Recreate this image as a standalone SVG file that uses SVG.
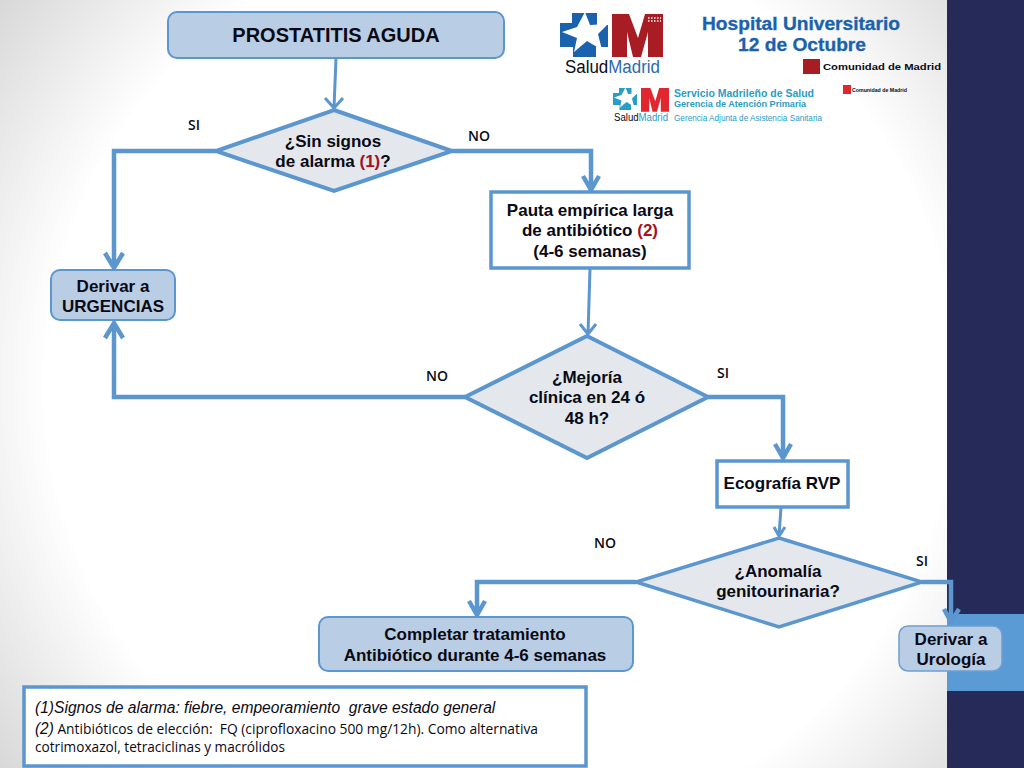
<svg xmlns="http://www.w3.org/2000/svg" width="1024" height="768" viewBox="0 0 1024 768">
<style>
text{font-family:"Liberation Sans",Arial,sans-serif;fill:#0a0a14}
.n{font-weight:bold;font-size:17px;text-anchor:middle}
.l{font-family:"Open Sans","Noto Sans",sans-serif;font-weight:600;font-size:14px}
.rb{fill:#b9cde5;stroke:#5b96cf;stroke-width:2}
.d{fill:#e4e7ec;stroke:#5b96cf;stroke-width:4;stroke-linejoin:miter}
.b{fill:#fff;stroke:#5b96cf;stroke-width:3.5}
.c{fill:none;stroke:#5b96cf;stroke-linejoin:miter}
.r{fill:#a50f1e}
.logo{fill:#1a62ad;font-weight:bold;stroke:#1a62ad;stroke-width:.3}
.cy{fill:#2a9dc4}
</style>
<defs>
<radialGradient id="bg" gradientUnits="userSpaceOnUse" cx="500" cy="384" r="630"><stop offset="0.72" stop-color="#fff"/><stop offset="1" stop-color="#d8d8d8"/></radialGradient>
<g id="cross">
<path d="M572 13H597V25H608V47H596V57H573V47H560V23H572Z"/>
<path d="M585 12 590 25 608 24 598 34 602 50 587 41 574 52 577 38 562 32 577 27Z" fill="#fff"/>
</g>
<path id="em" d="M612 14H629L638 38 645 14H663V57H648V32L641 57H633L627 32V57H612Z"/>
</defs>
<g id="background">
<rect width="948" height="768" fill="url(#bg)"/>
<rect x="947" width="77" height="768" fill="#262a58"/>
<rect x="947" y="614" width="77" height="77" fill="#5b9bd5"/>
</g>
<g id="logos">
<use href="#cross" fill="#1a62ad"/>
<use href="#em" fill="#a81c24"/>
<path d="M648 18H661M648 21H661" stroke="#fff" stroke-width="1.5" stroke-dasharray="1.5 1.5"/>
<text x="565" y="73" font-size="18" textLength="95" lengthAdjust="spacingAndGlyphs" fill="#9c2a33">Salud<tspan fill="#2c6ba8">Madrid</tspan></text>
<text x="702" y="30" font-size="18" class="logo" textLength="198" lengthAdjust="spacingAndGlyphs">Hospital Universitario</text>
<text x="738" y="50.5" font-size="18" class="logo" textLength="128" lengthAdjust="spacingAndGlyphs">12 de Octubre</text>
<rect x="803" y="59" width="17" height="15" fill="#a81c24"/>
<text x="823" y="70" font-size="9.5" font-weight="bold" font-family="DejaVu Sans" textLength="118" lengthAdjust="spacingAndGlyphs">Comunidad de Madrid</text>
<use href="#cross" transform="translate(613 88) scale(.5) translate(-560 -13)" fill="#2a9dc4"/>
<use href="#em" transform="translate(641 88) scale(.55) translate(-612 -14)" fill="#e0262e"/>
<text x="614" y="121" font-size="10" textLength="54" lengthAdjust="spacingAndGlyphs" fill="#c0303a">Salud<tspan fill="#2a9dc4">Madrid</tspan></text>
<text x="674" y="97" font-size="10" font-weight="bold" class="cy" textLength="140" lengthAdjust="spacingAndGlyphs">Servicio Madrileño de Salud</text>
<text x="674" y="107" font-size="9.5" font-weight="bold" class="cy" textLength="132" lengthAdjust="spacingAndGlyphs">Gerencia de Atención Primaria</text>
<text x="674" y="121" font-size="9" class="cy" textLength="148" lengthAdjust="spacingAndGlyphs">Gerencia Adjunta de Asistencia Sanitaria</text>
<rect x="843" y="85" width="8" height="9" fill="#e0262e"/>
<text x="852" y="92" font-size="5" font-weight="bold" textLength="55" lengthAdjust="spacingAndGlyphs">Comunidad de Madrid</text>
</g>
<g id="connectors">
<g class="c" stroke-width="3">
<path d="M336 58 334 108M325 98 334 108 343 98"/>
<path d="M590 269 588 334M580 324 588 334 596 324"/>
<path d="M781 507 779 536M774 527 779 536 785 527"/>
</g>
<g class="c" stroke-width="4.5">
<path d="M216 151H114V268M105 253 114 268 123 253"/>
<path d="M452 151H591V190M583 176 591 190 599 176"/>
<path d="M465 397H114V323M105 338 114 323 123 338"/>
<path d="M708 397H783V458M775 444 783 458 791 444"/>
<path d="M636 582H477V615M469 601 477 615 485 601"/>
<path d="M922 582H951V622M944 609 951 622 959 609"/>
</g>
</g>
<g id="n-prostatitis"><rect class="rb" x="168" y="12" width="336" height="46" rx="9"/><text class="n" x="336" y="42" style="font-size:20px">PROSTATITIS AGUDA</text></g>
<g id="n-alarma"><path class="d" d="M334 110 452 151 334 191 216 151Z"/><text class="n" x="333" y="147">¿Sin signos</text><text class="n" x="333" y="167">de alarma <tspan class="r">(1)</tspan>?</text></g>
<g id="n-pauta"><rect class="b" x="491" y="192" width="198" height="76"/><text class="n" x="590" y="216">Pauta empírica larga</text><text class="n" x="590" y="236">de antibiótico <tspan class="r">(2)</tspan></text><text class="n" x="590" y="257">(4-6 semanas)</text></g>
<g id="n-urgencias"><rect class="rb" x="51" y="270" width="124" height="50" rx="9"/><text class="n" x="113" y="292">Derivar a</text><text class="n" x="113" y="312">URGENCIAS</text></g>
<g id="n-mejoria"><path class="d" d="M587 336 708 397 587 458 465 397Z"/><text class="n" x="587" y="383">¿Mejoría</text><text class="n" x="587" y="403">clínica en 24 ó</text><text class="n" x="587" y="424">48 h?</text></g>
<g id="n-eco"><rect class="b" x="717" y="461" width="131" height="46"/><text class="n" x="782" y="489">Ecografía RVP</text></g>
<g id="n-anomalia"><path class="d" d="M779 538 922 582 779 627 636 582Z" style="stroke-width:3.5"/><text class="n" x="778" y="577">¿Anomalía</text><text class="n" x="778" y="597">genitourinaria?</text></g>
<g id="n-completar"><rect class="rb" x="319" y="617" width="314" height="54" rx="9"/><text class="n" x="475" y="640">Completar tratamiento</text><text class="n" x="475" y="661">Antibiótico durante 4-6 semanas</text></g>
<g id="n-urologia"><rect x="899" y="626" width="103" height="45" rx="9" fill="#b9cde5" stroke="#6f9fd0" stroke-width="1.5"/><text class="n" x="951" y="645">Derivar a</text><text class="n" x="951" y="665">Urología</text></g>
<g id="n-notas"><rect class="b" x="24" y="687" width="562" height="79"/>
<text x="35" y="713" font-size="15.6" font-style="italic" fill="#222" xml:space="preserve">(1)Signos de alarma: fiebre, empeoramiento  grave estado general</text>
<text x="35" y="734" font-size="14" style="font-family:'Open Sans','Noto Sans',sans-serif" textLength="503" lengthAdjust="spacingAndGlyphs" xml:space="preserve"><tspan font-style="italic" font-size="15.6" style="font-family:'Liberation Sans',sans-serif">(2)</tspan> Antibióticos de elección:  FQ (ciprofloxacino 500 mg/12h). Como alternativa</text>
<text x="35" y="752" font-size="14" style="font-family:'Open Sans','Noto Sans',sans-serif" textLength="250" lengthAdjust="spacingAndGlyphs">cotrimoxazol, tetraciclinas y macrólidos</text></g>
<g id="labels">
<text class="l" x="188" y="130">SI</text>
<text class="l" x="468" y="141">NO</text>
<text class="l" x="426" y="381">NO</text>
<text class="l" x="717" y="378">SI</text>
<text class="l" x="594" y="548">NO</text>
<text class="l" x="916" y="566">SI</text>
</g>
</svg>
